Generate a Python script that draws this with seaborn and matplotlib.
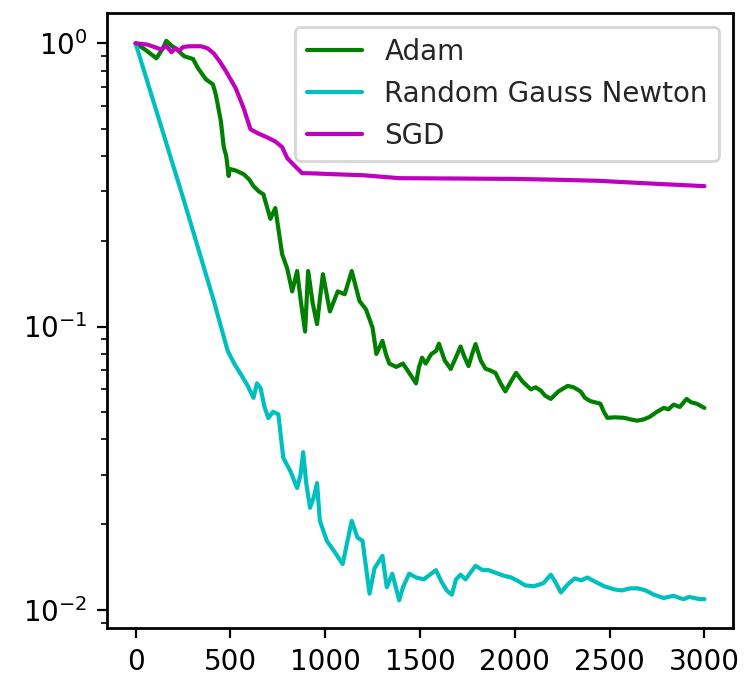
import matplotlib
matplotlib.use("Agg")
import matplotlib.pyplot as plt
import seaborn as sns

# Training loss per iteration for each optimiser
adam_iter = [0, 50, 110, 140, 162, 190, 220, 256, 303, 329, 371, 408, 423, 450, 465, 478,
             491, 496, 530, 570, 600, 622, 650, 674, 711, 737, 773, 800, 826, 852, 870,
             894, 910, 935, 957, 975, 988, 1025, 1066, 1103, 1140, 1181, 1215, 1250, 1270,
             1302, 1320, 1338, 1375, 1410, 1443, 1479, 1495, 1511, 1530, 1560, 1585, 1600,
             1630, 1662, 1690, 1714, 1735, 1756, 1775, 1793, 1820, 1845, 1870, 1898, 1925,
             1950, 1980, 2007, 2040, 2085, 2110, 2137, 2160, 2190, 2230, 2279, 2310, 2347,
             2370, 2399, 2451, 2470, 2488, 2530, 2577, 2610, 2645, 2680, 2712, 2750, 2786,
             2810, 2838, 2870, 2906, 2930, 2959, 3000]
adam_loss = [1.0, 0.95, 0.885, 0.95, 1.02, 0.98, 0.95, 0.90, 0.88, 0.817, 0.746, 0.716,
             0.66, 0.53, 0.43, 0.40, 0.34, 0.36, 0.355, 0.345, 0.33, 0.313, 0.30, 0.293,
             0.24, 0.262, 0.18, 0.16, 0.133, 0.157, 0.125, 0.096, 0.157, 0.12, 0.102, 0.13,
             0.153, 0.113, 0.133, 0.13, 0.157, 0.123, 0.115, 0.099, 0.08, 0.089, 0.08, 0.074,
             0.072, 0.074, 0.0686, 0.063, 0.072, 0.0776, 0.074, 0.08, 0.082, 0.087, 0.076,
             0.0708, 0.078, 0.085, 0.078, 0.0725, 0.08, 0.0867, 0.076, 0.071, 0.07, 0.0686,
             0.063, 0.059, 0.064, 0.0686, 0.064, 0.06, 0.061, 0.0594, 0.057, 0.0555, 0.059,
             0.0617, 0.061, 0.059, 0.056, 0.0545, 0.0534, 0.05, 0.0476, 0.0478, 0.0476,
             0.047, 0.0465, 0.047, 0.048, 0.05, 0.0516, 0.051, 0.053, 0.052, 0.0555, 0.054,
             0.0534, 0.0516]

rgn_iter = [0, 256, 413, 450, 486, 520, 554, 590, 622, 640, 659, 680, 700, 725, 753, 779, 815,
            852, 870, 884, 900, 920, 940, 957, 972, 1009, 1050, 1092, 1140, 1170, 1197, 1234,
            1260, 1302, 1325, 1354, 1390, 1410, 1443, 1480, 1520, 1584, 1615, 1641, 1668,
            1690, 1714, 1740, 1793, 1830, 1861, 1900, 1940, 1981, 2020, 2054, 2100, 2150,
            2190, 2215, 2243, 2280, 2316, 2350, 2383, 2420, 2472, 2524, 2565, 2608, 2650,
            2690, 2734, 2786, 2810, 2838, 2870, 2890, 2920, 2974, 3000]
rgn_loss = [1.0, 0.277, 0.123, 0.1, 0.082, 0.074, 0.068, 0.062, 0.056, 0.063, 0.0607, 0.052,
            0.0475, 0.05, 0.049, 0.0344, 0.031, 0.0269, 0.03, 0.036, 0.028, 0.0229, 0.025,
            0.028, 0.0206, 0.0175, 0.016, 0.0145, 0.0206, 0.018, 0.0175, 0.0114, 0.014,
            0.0155, 0.012, 0.0134, 0.0108, 0.012, 0.0134, 0.013, 0.0128, 0.0138, 0.0125,
            0.0117, 0.0113, 0.0128, 0.0133, 0.0128, 0.0143, 0.0138, 0.0138, 0.0135, 0.0132,
            0.013, 0.0126, 0.0122, 0.0121, 0.0124, 0.0133, 0.0125, 0.0115, 0.0123, 0.0129,
            0.0127, 0.013, 0.0126, 0.0121, 0.0118, 0.0117, 0.0119, 0.0119, 0.0117, 0.0113,
            0.011, 0.0111, 0.0112, 0.011, 0.0109, 0.0111, 0.0109, 0.0109]

sgd_iter = [0, 60, 100, 136, 160, 190, 210, 230, 250, 282, 345, 380, 413, 445, 475, 528, 570,
            606, 648, 695, 737, 773, 800, 831, 878, 950, 1040, 1200, 1390, 1700, 2000, 2200,
            2436, 2786, 3000]
sgd_loss = [1.0, 0.99, 0.97, 0.95, 0.98, 0.93, 0.96, 0.94, 0.97, 0.976, 0.976, 0.96, 0.92,
            0.86, 0.80, 0.694, 0.59, 0.497, 0.48, 0.465, 0.45, 0.43, 0.393, 0.374, 0.348,
            0.347, 0.345, 0.342, 0.334, 0.333, 0.332, 0.330, 0.327, 0.318, 0.313]

sns.set_style("ticks")
plt.rcParams["font.family"] = ["DejaVu Sans"]
plt.rcParams["font.size"] = 10
plt.rcParams["xtick.labelsize"] = 10
plt.rcParams["ytick.labelsize"] = 10
plt.rcParams["legend.fontsize"] = 10

fig, ax = plt.subplots(figsize=(3.72, 3.385), dpi=200)
fig.subplots_adjust(left=0.144, right=0.985, bottom=0.072, top=0.981)

sns.lineplot(x=adam_iter, y=adam_loss, color="g", label="Adam", ax=ax,
             estimator=None, sort=False, linewidth=1.5)
sns.lineplot(x=rgn_iter, y=rgn_loss, color="c", label="Random Gauss Newton", ax=ax,
             estimator=None, sort=False, linewidth=1.5)
sns.lineplot(x=sgd_iter, y=sgd_loss, color="m", label="SGD", ax=ax,
             estimator=None, sort=False, linewidth=1.5)

ax.set_yscale("log")
ax.set_xticks([0, 500, 1000, 1500, 2000, 2500, 3000])
ax.set_xlim(-150, 3150)
ax.set_xlabel("")
ax.set_ylabel("")
for spine in ax.spines.values():
    spine.set_visible(True)
    spine.set_color("black")
    spine.set_linewidth(1.0)
ax.tick_params(colors="black", which="both")
ax.legend(loc="upper right")

fig.savefig("out.png", dpi=200)
